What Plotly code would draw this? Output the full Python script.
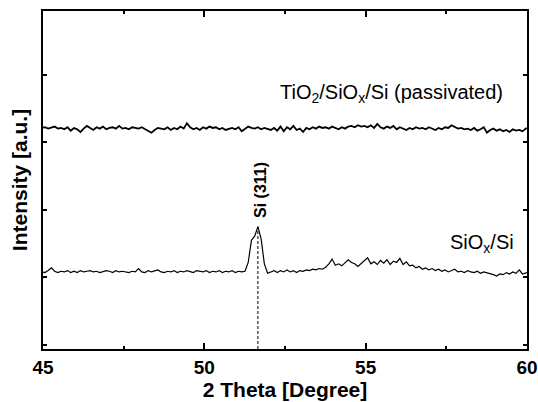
import numpy as np
import plotly.graph_objects as go

# 2-theta sampling grid (degrees)
two_theta = np.round(44.96 + 0.1 * np.arange(152), 2)

# TiO2/SiOx/Si (passivated) intensity (a.u., offset trace)
passivated = [
    3.21, 3.22, 3.20, 3.21, 3.23, 3.20, 3.21, 3.19, 3.22, 3.17,
    3.21, 3.19, 3.15, 3.20, 3.24, 3.21, 3.18, 3.22, 3.20, 3.23,
    3.19, 3.21, 3.22, 3.20, 3.24, 3.20, 3.21, 3.19, 3.22, 3.21,
    3.20, 3.22, 3.19, 3.17, 3.14, 3.18, 3.21, 3.20, 3.19, 3.22,
    3.18, 3.21, 3.19, 3.23, 3.20, 3.28, 3.22, 3.19, 3.21, 3.18,
    3.22, 3.20, 3.23, 3.21, 3.22, 3.19, 3.21, 3.18, 3.20, 3.21,
    3.19, 3.22, 3.16, 3.20, 3.23, 3.21, 3.20, 3.22, 3.19, 3.21,
    3.20, 3.18, 3.21, 3.17, 3.23, 3.16, 3.22, 3.19, 3.24, 3.18,
    3.20, 3.15, 3.21, 3.19, 3.22, 3.20, 3.23, 3.21, 3.22, 3.20,
    3.23, 3.21, 3.19, 3.22, 3.20, 3.23, 3.24, 3.22, 3.25, 3.23,
    3.24, 3.22, 3.25, 3.21, 3.27, 3.22, 3.20, 3.23, 3.21, 3.24,
    3.19, 3.22, 3.20, 3.18, 3.21, 3.19, 3.22, 3.20, 3.21, 3.19,
    3.22, 3.20, 3.18, 3.21, 3.19, 3.22, 3.21, 3.25, 3.22, 3.20,
    3.21, 3.19, 3.20, 3.18, 3.21, 3.17, 3.19, 3.22, 3.14, 3.18,
    3.20, 3.17, 3.19, 3.16, 3.18, 3.15, 3.19, 3.17, 3.18, 3.16,
    3.20, 3.21,
]

# SiOx/Si intensity (a.u.)
siox = [
    1.08, 1.07, 1.10, 1.14, 1.09, 1.07, 1.09, 1.08, 1.10, 1.07,
    1.09, 1.07, 1.10, 1.08, 1.09, 1.10, 1.08, 1.09, 1.07, 1.08,
    1.10, 1.09, 1.07, 1.10, 1.08, 1.09, 1.08, 1.07, 1.09, 1.08,
    1.13, 1.08, 1.07, 1.10, 1.08, 1.09, 1.11, 1.08, 1.07, 1.09,
    1.08, 1.10, 1.07, 1.09, 1.08, 1.10, 1.09, 1.07, 1.10, 1.09,
    1.08, 1.10, 1.07, 1.09, 1.08, 1.10, 1.07, 1.09, 1.08, 1.10,
    1.07, 1.09, 1.08, 1.09, 1.22, 1.55, 1.61, 1.75, 1.57, 1.20,
    1.06, 1.08, 1.10, 1.07, 1.10, 1.08, 1.11, 1.08, 1.10, 1.07,
    1.10, 1.09, 1.11, 1.10, 1.12, 1.11, 1.13, 1.12, 1.15, 1.20,
    1.27, 1.18, 1.20, 1.17, 1.21, 1.26, 1.22, 1.20, 1.16, 1.20,
    1.24, 1.29, 1.20, 1.23, 1.19, 1.25, 1.21, 1.26, 1.19, 1.24,
    1.22, 1.28, 1.19, 1.23, 1.17, 1.18, 1.14, 1.16, 1.12, 1.14,
    1.11, 1.13, 1.10, 1.12, 1.09, 1.11, 1.08, 1.10, 1.12, 1.08,
    1.09, 1.07, 1.10, 1.08, 1.07, 1.09, 1.06, 1.08, 1.07, 1.05,
    1.04, 1.02, 1.05, 1.04, 1.07, 1.05, 1.08, 1.06, 1.11, 1.05,
    1.07, 1.08,
]

peak_x = 51.66
peak_y = 1.75
x_ticks = [45, 50, 55, 60]
y_ticks = [0, 1, 2, 3, 4]
x_range = [45, 60]
y_range = [-0.06, 4.94]

FONT = "Liberation Sans, Arial, sans-serif"

fig = go.Figure()
fig.add_trace(go.Scatter(x=two_theta, y=passivated, mode="lines",
                         line=dict(color="black", width=1.8), showlegend=False))
fig.add_trace(go.Scatter(x=two_theta, y=siox, mode="lines",
                         line=dict(color="black", width=1.2), showlegend=False))
fig.add_trace(go.Scatter(x=[peak_x, peak_x], y=[y_range[0], peak_y], mode="lines",
                         line=dict(color="black", width=1, dash="3px,2px"),
                         showlegend=False))

fig.add_annotation(x=52.28, y=3.72, xref="x", yref="y",
                   text="TiO<sub>2</sub>/SiO<sub>x</sub>/Si (passivated)",
                   showarrow=False, xanchor="left", yanchor="middle",
                   font=dict(family=FONT, size=20, color="black"))
fig.add_annotation(x=57.55, y=1.50, xref="x", yref="y",
                   text="SiO<sub>x</sub>/Si",
                   showarrow=False, xanchor="left", yanchor="middle",
                   font=dict(family=FONT, size=20, color="black"))
fig.add_annotation(x=51.74, y=2.30, xref="x", yref="y",
                   text="<b>Si (311)</b>", textangle=-90,
                   showarrow=False, xanchor="center", yanchor="middle",
                   font=dict(family=FONT, size=16, color="black"))

fig.update_xaxes(
    range=x_range, tickvals=x_ticks, ticks="inside", ticklen=6, tickwidth=1.5,
    tickcolor="black", showline=True, linecolor="black", linewidth=2,
    mirror="ticks", showgrid=False, zeroline=False,
    minor=dict(ticks="inside", dtick=2.5, tick0=45, ticklen=3, tickwidth=1.5,
               tickcolor="black", showgrid=False),
    tickfont=dict(family=FONT, size=19, color="black", weight="bold"),
    title=dict(text="2 Theta [Degree]", standoff=0,
               font=dict(family=FONT, size=21, color="black", weight="bold")),
    automargin=False,
)
fig.update_yaxes(
    range=y_range, tickvals=y_ticks, ticks="inside", ticklen=4, tickwidth=1.5,
    tickcolor="black", showline=True, linecolor="black", linewidth=2,
    mirror="ticks", showgrid=False, zeroline=False, showticklabels=False,
    title=dict(text="Intensity [a.u.]", standoff=8,
               font=dict(family=FONT, size=21, color="black", weight="bold")),
    automargin=False,
)
fig.update_layout(
    width=538, height=402,
    margin=dict(l=43, r=11, t=11, b=53),
    plot_bgcolor="white", paper_bgcolor="white",
)
fig.write_html("out.html", config={"displayModeBar": False},
               post_script="document.body.style.margin='0px';")
